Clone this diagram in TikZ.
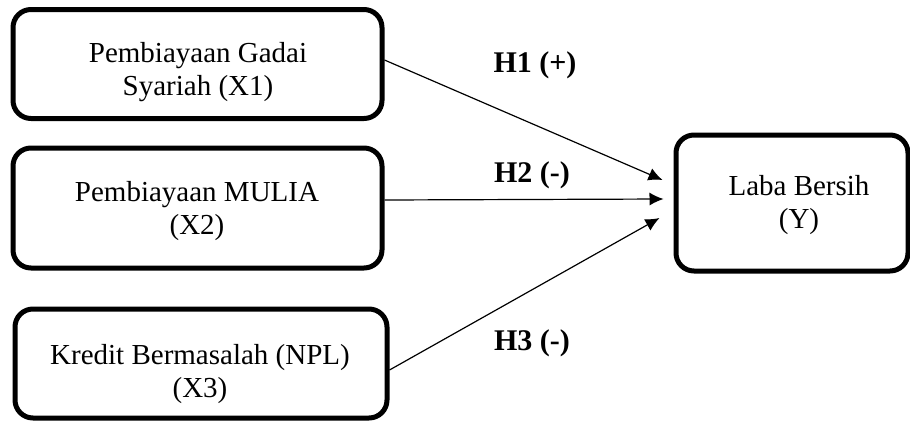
\documentclass[tikz,border=0pt]{standalone}
\usepackage{fontspec}
\setmainfont{Liberation Serif}
\usetikzlibrary{arrows.meta}
\begin{document}
\begin{tikzpicture}[x=1pt,y=-1pt,
  box/.style={draw, line width=5pt, rounded corners=18pt, inner sep=0pt},
  txt/.style={align=center, font=\fontsize{29}{33}\selectfont, inner sep=0pt},
  hyp/.style={font=\fontsize{30}{34}\selectfont\bfseries, inner sep=0pt},
  conn/.style={line width=1.2pt, -{Latex[length=14pt,width=13pt]}}]
\useasboundingbox (0,0) rectangle (910,421);
\node[box, minimum width=369pt, minimum height=109pt] (b1) at (197.5,64) {};
\node[box, minimum width=369pt, minimum height=120pt] (b2) at (197.5,208) {};
\node[box, minimum width=372pt, minimum height=109pt] (b3) at (201,363.5) {};
\node[box, minimum width=232pt, minimum height=136pt] (y) at (792,203) {};
\node[txt] (t1) at (198,72) {Pembiayaan Gadai\\Syariah (X1)};
\node[txt] (t2) at (197,211) {Pembiayaan MULIA\\(X2)};
\node[txt] (t3) at (200,374) {Kredit Bermasalah (NPL)\\(X3)};
\node[txt] (ty) at (799,205) {Laba Bersih\\(Y)};
\node[hyp] (h1) at (535,65) {H1 (+)};
\node[hyp] (h2) at (532,175) {H2 (-)};
\node[hyp] (h3) at (532,343) {H3 (-)};
\draw[conn] ([yshift=4pt]b1.east) -- ([xshift=-11pt,yshift=23pt]y.west);
\draw[conn] ([yshift=8pt]b2.east) -- ([xshift=-10pt,yshift=4pt]y.west);
\draw[conn] ([yshift=-6.5pt]b3.east) -- ([xshift=-14pt,yshift=-15pt]y.west);
\end{tikzpicture}
\end{document}
